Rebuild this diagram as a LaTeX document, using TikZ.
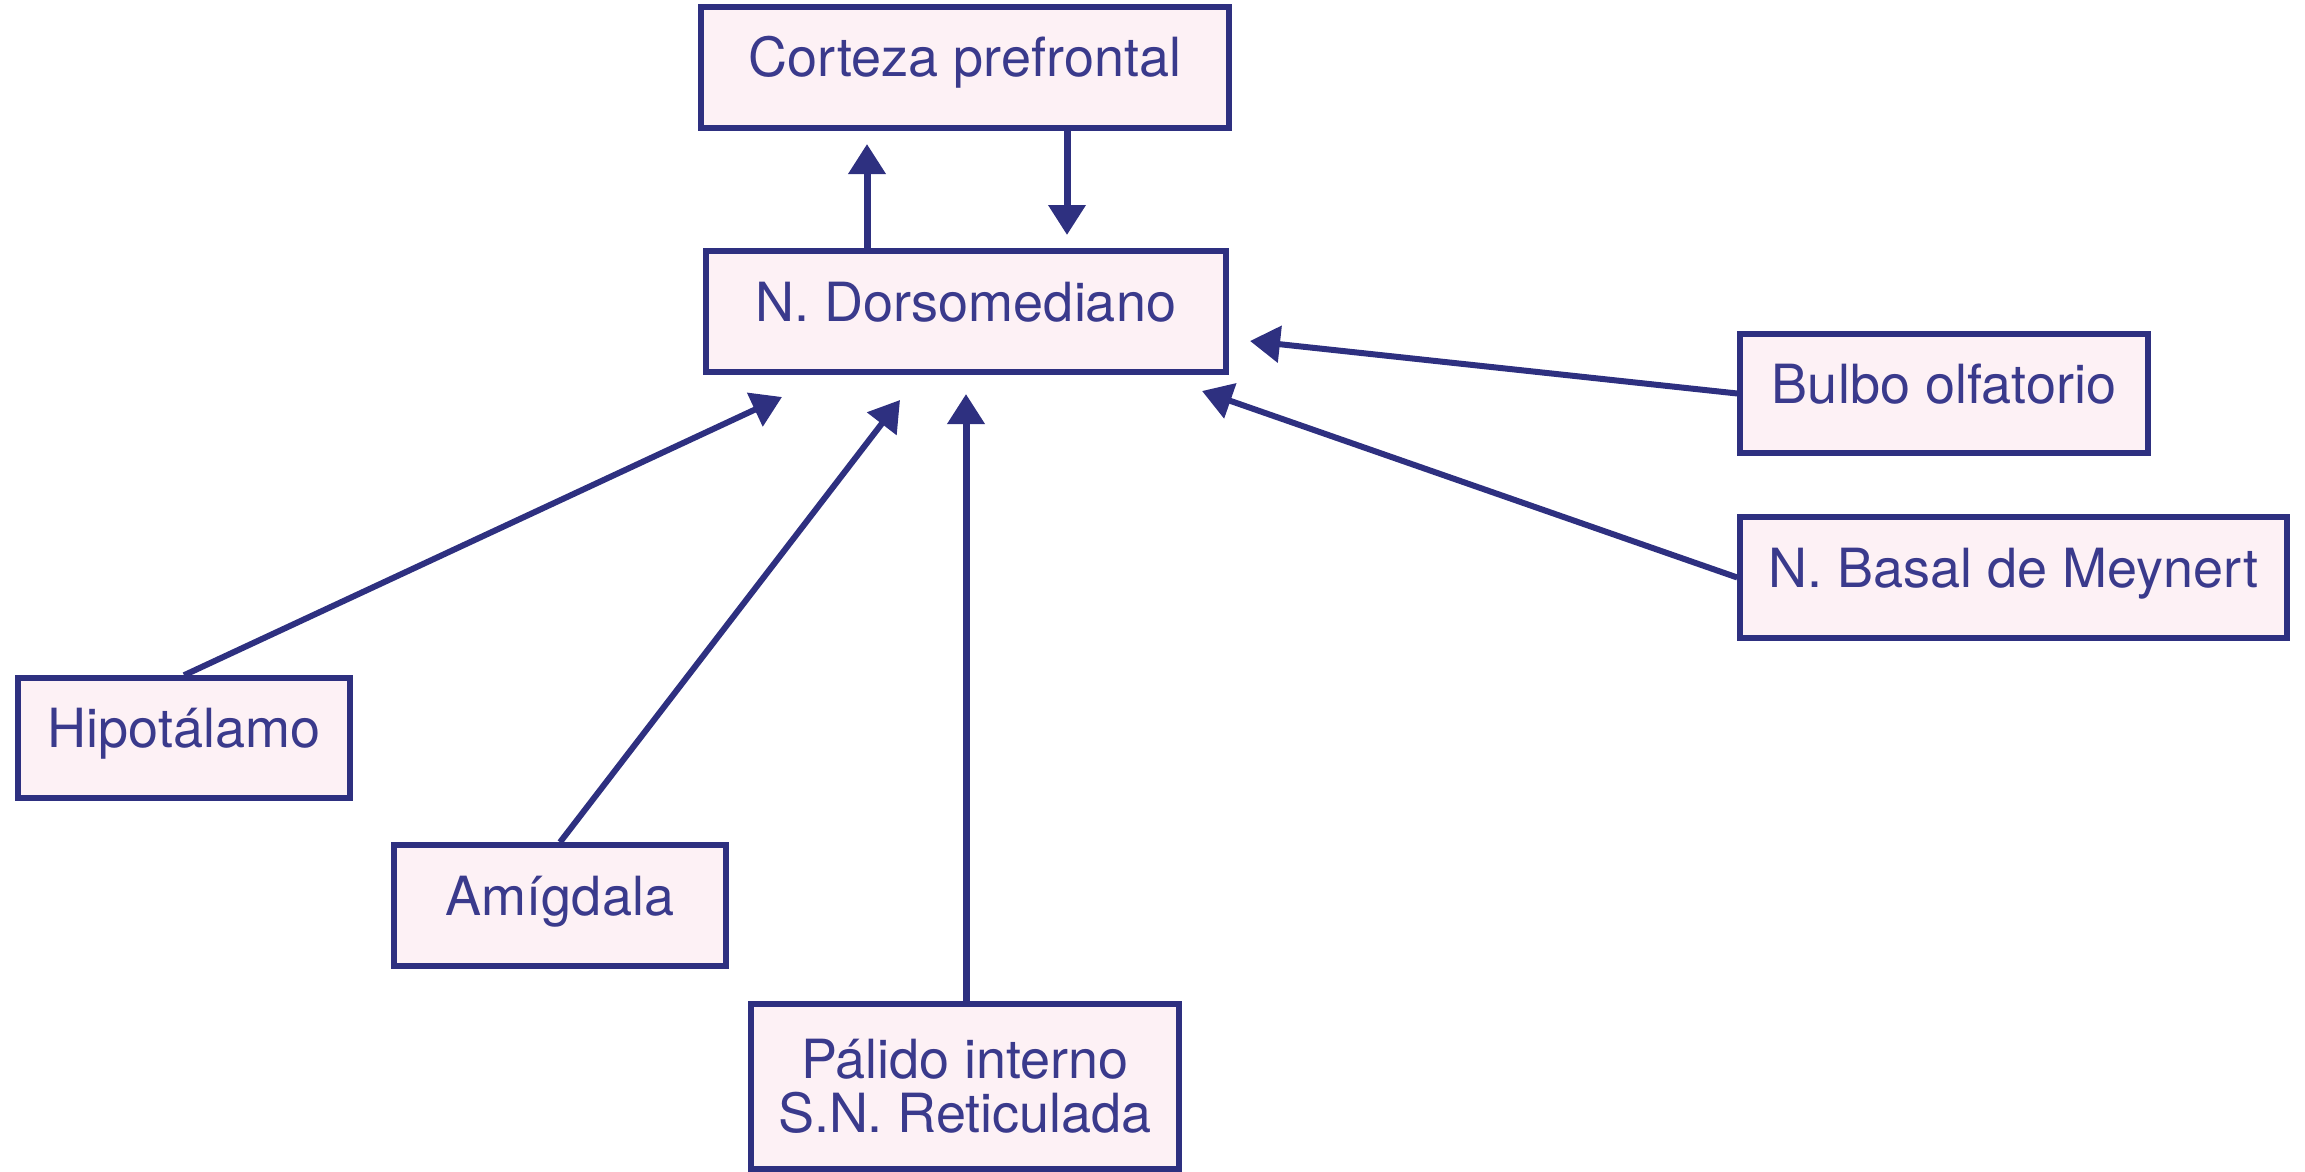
\documentclass[tikz,border=0pt]{standalone}
\usepackage{fontspec}
\setmainfont{TeX Gyre Heros}
\usetikzlibrary{arrows.meta}
\definecolor{navy}{RGB}{46,48,128}
\definecolor{txt}{RGB}{58,58,140}
\definecolor{pinkfill}{RGB}{253,241,245}
\tikzset{
  box/.style={draw=navy, fill=pinkfill, line width=5.5pt, inner sep=0pt,
    text=txt, align=center, font=\fontsize{54}{54}\selectfont},
  oneline/.style={text height=39pt, text depth=20pt},
  conn/.style={draw=navy, line width=7pt, -{Triangle[width=36pt,length=30pt]}},
  diag/.style={line width=6pt}
}
\begin{document}
\begin{tikzpicture}[x=1pt,y=-1pt]
\useasboundingbox (0,0) rectangle (2305,1172);
\node[box, oneline, minimum width=528pt, minimum height=121pt] (cort) at (965,67.5) {Corteza prefrontal};
\node[box, oneline, minimum width=520pt, minimum height=121pt] (dors) at (966,311.5) {N. Dorsomediano};
\node[box, oneline, minimum width=332pt, minimum height=120pt] (hipo) at (184,738) {Hipotálamo};
\node[box, oneline, minimum width=332pt, minimum height=121pt] (amig) at (560,905.5) {Amígdala};
\node[box, minimum width=428pt, minimum height=165pt] (pali) at (965,1086.5) {Pálido interno\\S.N. Reticulada};
\node[box, oneline, minimum width=408pt, minimum height=119pt] (bulb) at (1944,393.5) {Bulbo olfatorio};
\node[box, oneline, minimum width=547pt, minimum height=121pt] (meyn) at (2013.5,577.5) {N. Basal de Meynert};
\coordinate (tup) at (867,144);
\coordinate (tdn) at (1067,235);
\coordinate (thip) at (782,397);
\coordinate (tami) at (900,400);
\coordinate (tpal) at (966,394);
\coordinate (tbul) at (1250,341);
\coordinate (tmey) at (1202,391);
\draw[conn] (tup |- dors.north) -- (tup);
\draw[conn] (tdn |- cort.south) -- (tdn);
\draw[conn, diag] (hipo.north) -- (thip);
\draw[conn, diag] (amig.north) -- (tami);
\draw[conn] (tpal |- pali.north) -- (tpal);
\draw[conn, diag] (bulb.west) -- (tbul);
\draw[conn, diag] (meyn.west) -- (tmey);
\end{tikzpicture}
\end{document}
